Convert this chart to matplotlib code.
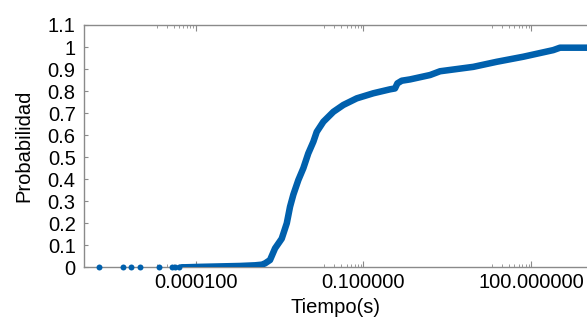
import matplotlib
matplotlib.use('Agg')
import matplotlib.pyplot as plt

plt.rcParams['font.family'] = ['Liberation Sans', 'DejaVu Sans']

# isolated early samples (seconds), all at probability ~0
early_t = [1.86e-6, 5.07e-6, 6.87e-6, 1.01e-5, 2.23e-5, 3.72e-5, 4.3e-5, 5.0e-5]
early_p = [0, 0, 0, 0, 0, 0, 0, 0]

cdf_t = [5.6e-5, 6.46e-5, 1.20e-4, 2.72e-4, 6.17e-4, 1.15e-3, 1.53e-3, 1.74e-3,
         2.13e-3, 2.62e-3, 3.45e-3, 4.25e-3, 4.86e-3, 5.57e-3, 6.84e-3, 8.41e-3,
         1.03e-2, 1.27e-2, 1.46e-2, 1.92e-2, 2.90e-2, 4.37e-2, 7.59e-2, 0.150,
         0.299, 0.367, 0.405, 0.484, 0.682, 1.56, 2.35, 9.25, 24.3, 72.6,
         249, 329, 1000]
cdf_p = [0.0, 0.0, 0.002, 0.004, 0.006, 0.009, 0.012, 0.018,
         0.033, 0.086, 0.13, 0.20, 0.275, 0.33, 0.396, 0.45,
         0.517, 0.57, 0.615, 0.661, 0.706, 0.737, 0.767, 0.79,
         0.808, 0.812, 0.835, 0.847, 0.853, 0.873, 0.89, 0.91, 0.933, 0.956,
         0.986, 0.997, 0.997]

major_x = [1e-4, 1e-1, 1e2]
major_x_labels = ['0.000100', '0.100000', '100.000000']
y_ticks = [0, 0.1, 0.2, 0.3, 0.4, 0.5, 0.6, 0.7, 0.8, 0.9, 1.0, 1.1]
y_labels = ['0', '0.1', '0.2', '0.3', '0.4', '0.5', '0.6', '0.7', '0.8', '0.9', '1', '1.1']

blue = '#0060ad'
grey = '#8a8a8a'
fs = 14.5

fig = plt.figure(figsize=(5.87, 3.22), dpi=100)
ax = fig.add_axes([84 / 587, 1 - 267.3 / 322, 1 - 84 / 587, (267.3 - 25) / 322])

ax.plot(early_t, early_p, 'o', color=blue, markersize=4.3, markeredgewidth=0, clip_on=False, zorder=3)
ax.plot(cdf_t, cdf_p, '-', color=blue, linewidth=4.7, solid_capstyle='round',
        solid_joinstyle='round', zorder=3)

ax.set_xscale('log')
ax.set_xlim(1e-6, 1e3)
ax.set_ylim(0, 1.1)

ax.set_xticks(major_x)
ax.set_xticklabels(major_x_labels)
minor = [m * k / 10 for m in major_x for k in range(2, 10)]
ax.set_xticks(minor, minor=True)
ax.set_xticklabels([], minor=True)
ax.set_yticks(y_ticks)
ax.set_yticklabels(y_labels)
ax.yaxis.set_minor_locator(plt.NullLocator())

ax.tick_params(axis='both', which='both', direction='in', colors=grey,
               labelcolor='black', labelsize=fs)
ax.tick_params(axis='x', which='major', length=4, width=0.8, top=True, pad=4)
ax.tick_params(axis='x', which='minor', length=2.5, width=0.6, top=True)
ax.tick_params(axis='y', which='major', length=3, width=0.8, pad=6)

for s in ['left', 'top', 'bottom']:
    ax.spines[s].set_color(grey)
    ax.spines[s].set_linewidth(1.0)
ax.spines['right'].set_visible(False)

ax.set_xlabel('Tiempo(s)', fontsize=fs)
ax.set_ylabel('Probabilidad', fontsize=fs)
ax.xaxis.set_label_coords(0.5, -0.125)
ax.yaxis.set_label_coords(-0.1, 0.5)

fig.savefig('out.png', dpi=100)
